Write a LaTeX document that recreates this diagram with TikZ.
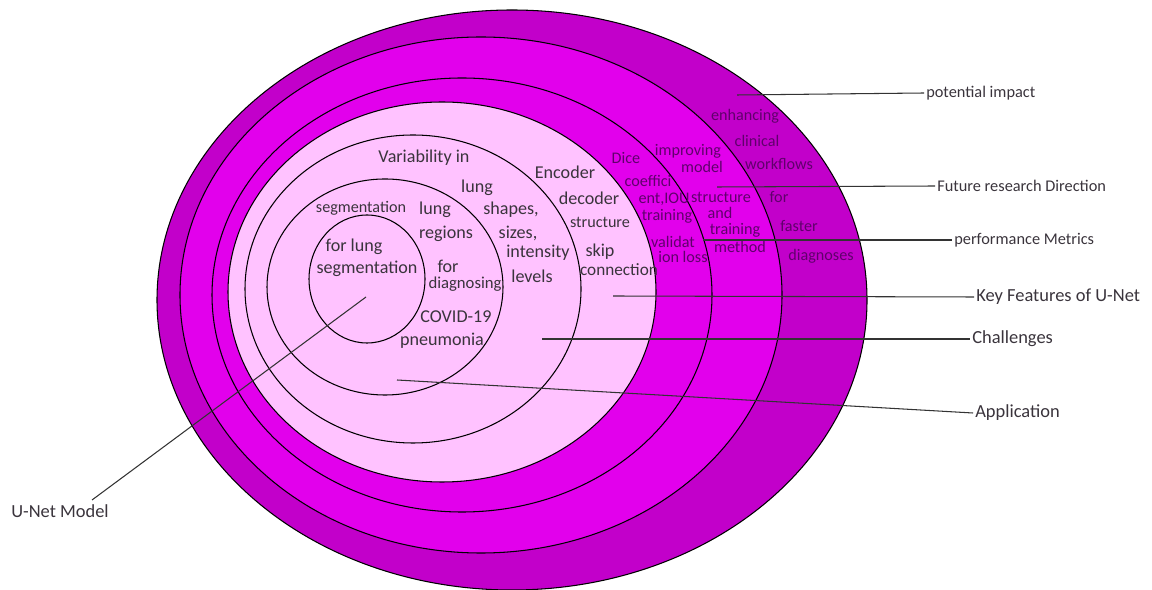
\documentclass[tikz,border=0pt]{standalone}
\usepackage{fontspec}
\setmainfont{Carlito}
\usepackage{tikz}
\usetikzlibrary{positioning}

\definecolor{ringdark}{RGB}{194,0,202}
\definecolor{ringmid}{RGB}{226,0,236}
\definecolor{ringlight}{RGB}{255,194,255}
\definecolor{inkgray}{RGB}{58,52,60}
\definecolor{inkmag}{RGB}{96,0,108}

\begin{document}
\begin{tikzpicture}[x=0.02cm,y=-0.02cm,line width=0.6pt,
    ring/.style={draw=black,line width=0.6pt},
    word/.style={text=inkgray,inner sep=0pt,font=\fontsize{10.3}{12}\selectfont},
    small word/.style={word,font=\fontsize{9.2}{11}\selectfont},
    mag word/.style={inner sep=0pt,text=inkmag,font=\fontsize{9.2}{11}\selectfont},
    tag/.style={anchor=west,inner sep=1pt,text=inkgray,font=\fontsize{10.5}{12}\selectfont},
    small tag/.style={tag,font=\fontsize{9.3}{11}\selectfont},
    leader/.style={draw=black!80,line width=0.6pt}]

  \useasboundingbox (0,0) rectangle (1152,590);

  % the rings, outside in
  \filldraw[ring,fill=ringdark]  (512,300) ellipse [x radius=355, y radius=290];
  \filldraw[ring,fill=ringmid]   (481,295) ellipse [x radius=301, y radius=258];
  \draw[ring]                    (462,295) ellipse [x radius=250, y radius=217];
  \filldraw[ring,fill=ringlight] (442,292) ellipse [x radius=214, y radius=190];
  \draw[ring] (413,289) ellipse [x radius=168, y radius=154];
  \draw[ring] (385,287) ellipse [x radius=118, y radius=108];
  \draw[ring] (367,279) ellipse [x radius=58, y radius=64];

  % U-Net model / application
  \node[word] (forlung) at (354,247) {for lung};
  \node[word] (seg2) at (367,269) {segmentation};
  \node[small word] (seg1) at (361,208) {segmentation};
  \node[word] (lunga) at (435,210) {lung};
  \node[word] (regions) at (446,234) {regions};
  \node[word] (fordiag) at (448,266) {for};
  \node[small word,font=\fontsize{9.5}{11}\selectfont] (diagnosing) at (465,284) {diagnosing};
  \node[word] (covid) at (456,317) {COVID-19};
  \node[word] (pneumonia) at (442,341) {pneumonia};

  % challenges
  \node[word] (variability) at (424,158) {Variability in};
  \node[word] (lungb) at (477,188) {lung};
  \node[word] (shapes) at (511,210) {shapes,};
  \node[word] (sizes) at (518,233) {sizes,};
  \node[word] (intensity) at (538,253) {intensity};
  \node[word] (levels) at (532,276) {levels};

  % key features
  \node[word] (encoder) at (565,172) {Encoder};
  \node[word] (decoder) at (589,198) {decoder};
  \node[small word] (structa) at (600,222) {structure};
  \node[word] (skip) at (600,252) {skip};
  \node[small word,font=\fontsize{9.8}{11}\selectfont] (connection) at (619,270) {connection};

  % metrics
  \node[mag word] (dice) at (626,158) {Dice};
  \node[mag word] (coeffici) at (648,181) {coeffici};
  \node[mag word] (entiou) at (664,199) {ent,IOU};
  \node[mag word] (traina) at (667,216) {training};
  \node[mag word] (validat) at (673,242) {validat};
  \node[mag word] (ionloss) at (683,257) {ion loss};

  % future direction
  \node[mag word] (improving) at (688,151) {improving};
  \node[mag word] (model) at (702,167) {model};
  \node[mag word] (structb) at (721,197) {structure};
  \node[mag word] (and) at (720,213) {and};
  \node[mag word] (trainb) at (735,230) {training};
  \node[mag word] (method) at (740,247) {method};

  % impact
  \node[mag word] (enhancing) at (745,116) {enhancing};
  \node[mag word] (clinical) at (757,141) {clinical};
  \node[mag word] (workflows) at (779,164) {workflows};
  \node[mag word] (forfast) at (779,197) {for};
  \node[mag word] (faster) at (799,226) {faster};
  \node[mag word] (diagnoses) at (821,256) {diagnoses};

  % labels on the right
  \node[small tag] (impact) at (924,93) {potential impact};
  \node[small tag] (future) at (935,186) {Future research Direction};
  \node[small tag] (metrics) at (952,240) {performance Metrics};
  \node[tag] (features) at (974,297) {Key Features of U-Net};
  \node[tag] (challenges) at (970,339) {Challenges};
  \node[tag] (application) at (973,413) {Application};
  \node[word,font=\fontsize{10.5}{12}\selectfont] (unet) at (60,511) {U-Net Model};

  \coordinate (impact end) at (737,95);
  \coordinate (future end) at (717,187);
  \coordinate (metrics end) at (703,240);
  \coordinate (features end) at (613,296);
  \coordinate (challenges end) at (542,339);
  \coordinate (application end) at (397,380);
  \coordinate (core) at (366,297);
  \coordinate (unet end) at (92,500);

  \path[leader]
    (impact end) edge (impact.west)
    (future end) edge (future.west)
    (metrics end) edge (metrics.west)
    (features end) edge (features.west)
    (challenges end) edge (challenges.west)
    (application end) edge (application.west)
    (core) edge (unet end);
\end{tikzpicture}
\end{document}
